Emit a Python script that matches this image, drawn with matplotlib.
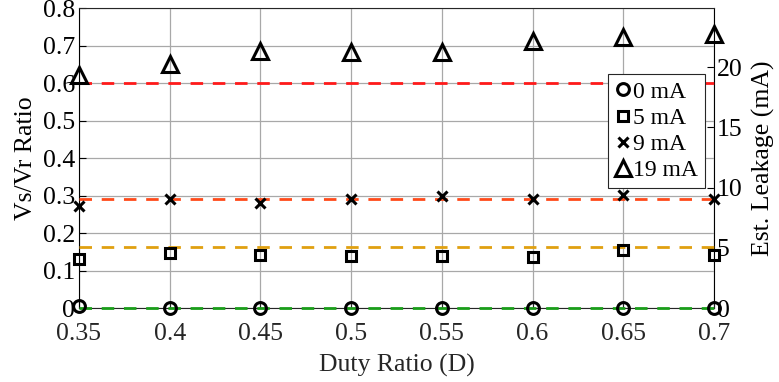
import numpy as np
import matplotlib.pyplot as plt

plt.rcParams['font.family'] = ['Liberation Serif', 'DejaVu Serif']

duty = [0.35, 0.4, 0.45, 0.5, 0.55, 0.6, 0.65, 0.7]
labels = ['0 mA', '5 mA', '9 mA', '19 mA']
ratio_0 = [0.005, 0.0, 0.0, 0.0, 0.0, 0.0, 0.0, 0.0]
ratio_5 = [0.131, 0.146, 0.141, 0.140, 0.140, 0.135, 0.155, 0.141]
ratio_9 = [0.272, 0.291, 0.279, 0.292, 0.299, 0.292, 0.301, 0.292]
ratio_19 = [0.621, 0.652, 0.686, 0.684, 0.684, 0.713, 0.722, 0.731]
ref_levels = [0.0, 0.164, 0.290, 0.601]
ref_colors = ['#1a9e1a', '#e0a010', '#ff4a1a', '#ff1a1a']

xticks = [0.35, 0.4, 0.45, 0.5, 0.55, 0.6, 0.65, 0.7]
xtick_labels = ['0.35', '0.4', '0.45', '0.5', '0.55', '0.6', '0.65', '0.7']
yticks = np.arange(0, 0.81, 0.1)
ytick_labels = ['0', '0.1', '0.2', '0.3', '0.4', '0.5', '0.6', '0.7', '0.8']
rticks = [0, 5, 10, 15, 20]

fig = plt.figure(figsize=(7.79, 3.82), dpi=100)
ax = fig.add_axes([0.1014, 0.1937, 0.8152, 0.7853])
ax2 = ax.twinx()
ax.set_zorder(ax2.get_zorder() + 1)
ax.patch.set_visible(False)

for lvl, c in zip(ref_levels, ref_colors):
    ax.axhline(lvl, color=c, lw=2.0, dashes=(4.5, 3.5), zorder=3, clip_on=False)

kw = dict(ls='none', mfc='none', mec='black', color='black', mew=2.2, zorder=4, clip_on=False)
ax.plot(duty, ratio_0, marker='o', ms=8.5, label=labels[0], **kw)
ax.plot(duty, ratio_5, marker='s', ms=7, label=labels[1], **kw)
ax.plot(duty, ratio_9, marker='x', ms=7, label=labels[2], **kw)
ax.plot(duty, ratio_19, marker='^', ms=11.5, label=labels[3], **kw)

ax.set_xlim(0.35, 0.7)
ax.set_ylim(0, 0.8)
ax.set_xticks(xticks)
ax.set_xticklabels(xtick_labels)
ax.set_yticks(yticks)
ax.set_yticklabels(ytick_labels)
ax.grid(True, color='#a8a8a8', lw=0.9)
ax.tick_params(axis='both', direction='in', labelsize=18.5, length=5, colors='#262626')
ax.tick_params(axis='x', pad=11, top=False)
ax.tick_params(axis='y', colors='black', right=False, pad=3)
ax.set_xlabel('Duty Ratio (D)', fontsize=18.5, color='#262626', labelpad=6)
ax.set_ylabel('Vs/Vr Ratio', fontsize=18.5, color='black', labelpad=4)
for s in ['top', 'bottom']:
    ax.spines[s].set_color('#262626')
ax.spines['right'].set_visible(False)

ax2.set_ylim(0, 24.9)
ax2.set_yticks(rticks)
ax2.tick_params(axis='y', direction='in', labelsize=18.5, length=5, colors='black', pad=2)
ax2.set_ylabel('Est. Leakage (mA)', fontsize=18.5, labelpad=7)
for s in ['top', 'bottom', 'left']:
    ax2.spines[s].set_visible(False)

leg = ax.legend(loc='upper right', bbox_to_anchor=(0.986, 0.78), fontsize=17,
                frameon=True, fancybox=False, framealpha=1, edgecolor='#262626',
                handlelength=0.6, handletextpad=0.15, borderpad=0.3, labelspacing=0.2,
                borderaxespad=0)
leg.get_frame().set_linewidth(0.8)
leg.set_zorder(10)

fig.savefig('out.png', dpi=100)
